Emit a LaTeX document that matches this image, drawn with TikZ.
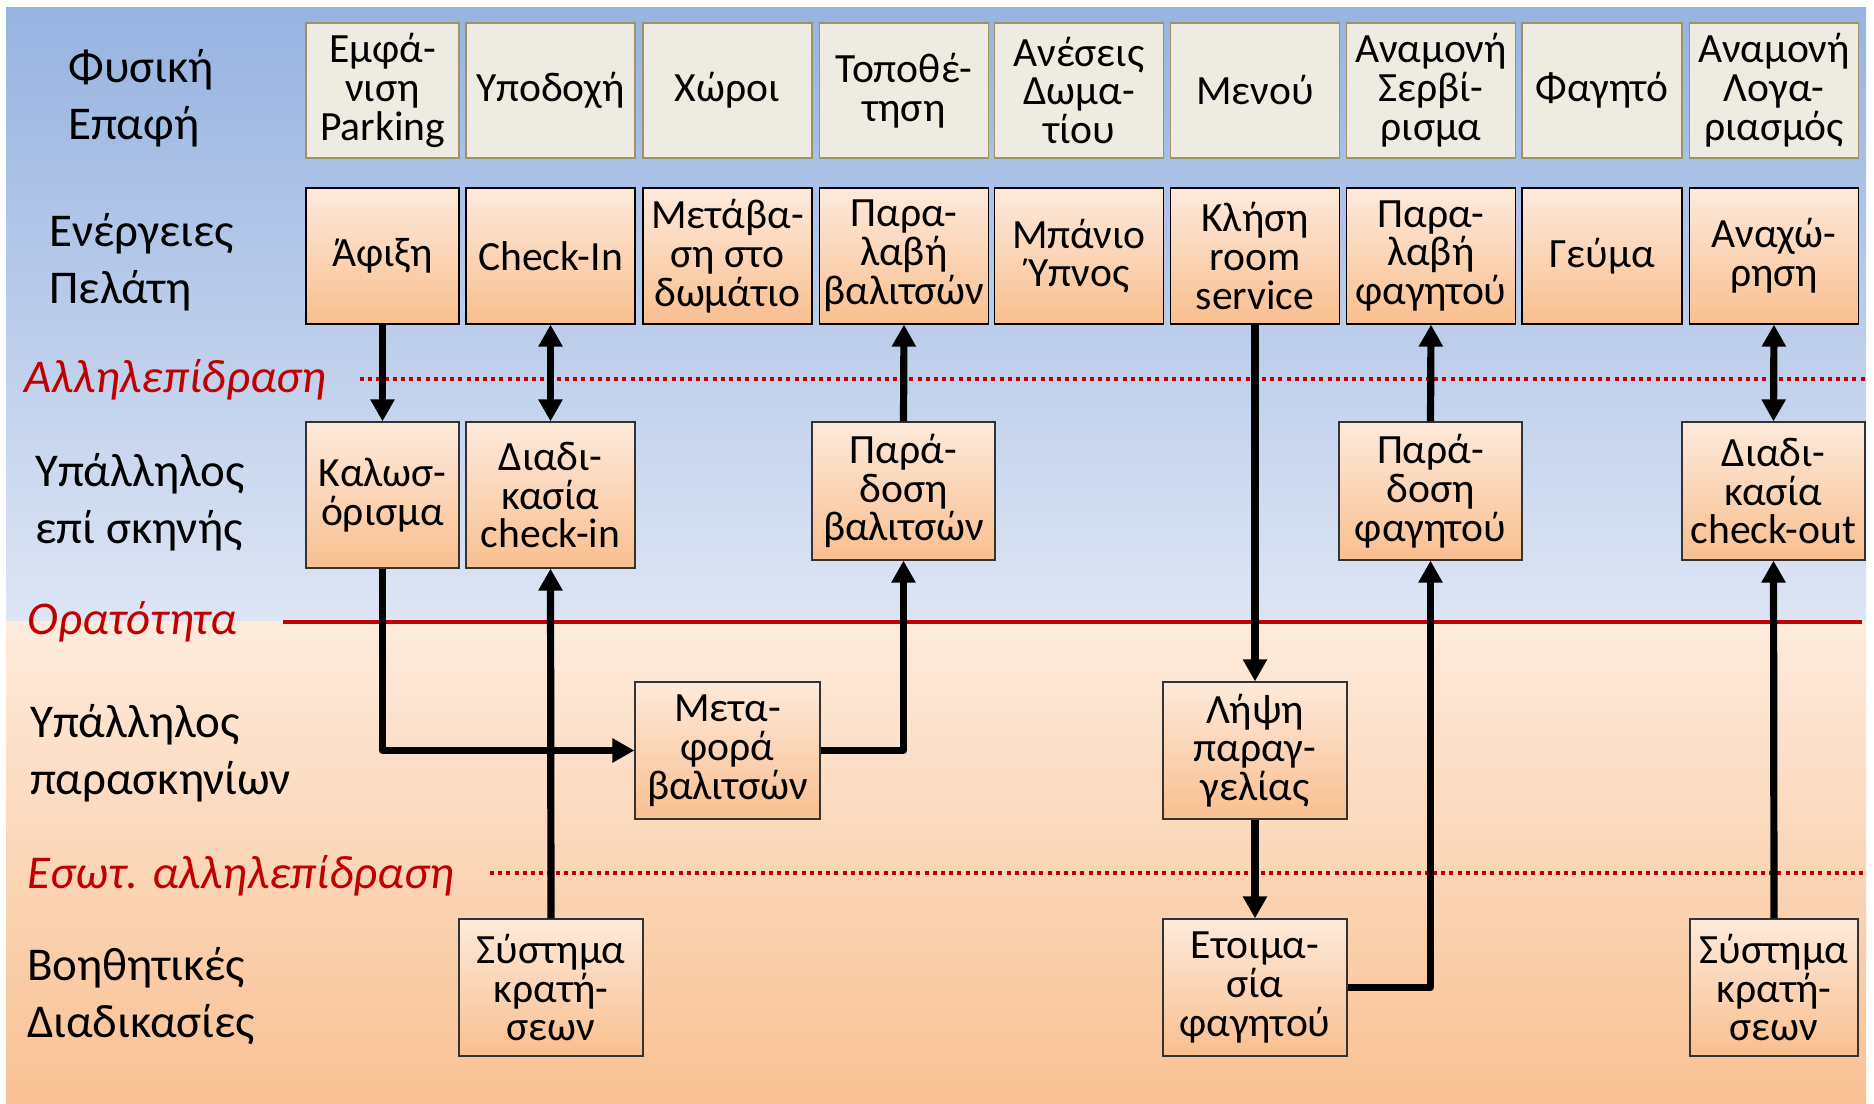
\documentclass[tikz,border=0pt]{standalone}
\usepackage{fontspec}
\setmainfont{Carlito}
\usetikzlibrary{arrows.meta}
\definecolor{bluetop}{HTML}{97B3E1}
\definecolor{bluebot}{HTML}{DDE5F4}
\definecolor{peachtop}{HTML}{FDEBDC}
\definecolor{peachbot}{HTML}{F9C193}
\definecolor{boxtop}{HTML}{FDEADB}
\definecolor{boxbot}{HTML}{F9BF8F}
\definecolor{beige}{HTML}{EEECE1}
\definecolor{olivebd}{HTML}{9D9364}
\definecolor{redline}{HTML}{C00000}
\begin{document}
\begin{tikzpicture}[
        x=0.5pt, y=-0.5pt, % one unit = one pixel of the slide
        lane/.style={font=\fontsize{23.5}{28.7}\selectfont, align=left, anchor=west, inner sep=0pt},
        zone/.style={font=\fontsize{23.5}{28.7}\selectfont\itshape, text=redline, anchor=west, inner sep=0pt},
        touch/.style={draw=olivebd, fill=beige, line width=0.6pt, align=center, inner sep=0pt, font=\fontsize{20.8}{19.4}\selectfont, minimum width=84.5pt, minimum height=67.5pt},
        act/.style={draw=black!80, top color=boxtop, bottom color=boxbot, line width=0.6pt, align=center, inner sep=0pt, font=\fontsize{20.8}{19.4}\selectfont, minimum width=84.5pt, minimum height=68pt},
        arrowline/.style={line width=3.6pt, line join=round, -{Triangle[length=11pt,width=11.5pt]}},
        twoway/.style={arrowline, {Triangle[length=11pt,width=11.5pt]}-{Triangle[length=11pt,width=11.5pt]}},
        dotline/.style={draw=redline, line width=2pt, dash pattern=on 2pt off 2.1pt},
    ]
    \useasboundingbox (0,0) rectangle (1874,1103);
    % Background
    \fill[white] (0,0) rectangle (1874,1103);
    \fill[top color=bluetop, bottom color=bluebot] (6,7) rectangle (1866,621);
    \fill[top color=peachtop, bottom color=peachbot] (6,621) rectangle (1866,1103);

    % Lane labels
    \node[lane] (l1) at (68,98) {Φυσική\\Επαφή};
    \node[lane] (l2) at (49,262) {Ενέργειες\\Πελάτη};
    \node[lane] (l3) at (35,502) {Υπάλληλος\\επί σκηνής};
    \node[lane] (l4) at (30,753) {Υπάλληλος\\παρασκηνίων};
    \node[lane] (l5) at (27,996) {Βοηθητικές\\Διαδικασίες};

    % Lines between lanes
    \node[zone] (z1) at (24,380) {Αλληλεπίδραση};
    \node[zone] (z2) at (27,622) {Ορατότητα};
    \node[zone] (z3) at (27,876) {Εσωτ. αλληλεπίδραση};
    \draw[dotline] (360,379) -- (1866,379);
    \draw[redline, line width=2.1pt] (283,622) -- (1862,622);
    \draw[dotline] (490,873) -- (1866,873);

    % Physical contact
    \node[touch, minimum width=76.5pt] (p1) at (382.5,90.5) {Εμφά-\\νιση\\Parking};
    \node[touch] (p2) at (550.5,90.5) {Υποδοχή};
    \node[touch] (p3) at (727.5,90.5) {Χώροι};
    \node[touch] (p4) at (904,90.5) {Τοποθέ-\\τηση};
    \node[touch] (p5) at (1079,90.5) {Ανέσεις\\Δωμα-\\τίου};
    \node[touch] (p6) at (1255,90.5) {Μενού};
    \node[touch] (p7) at (1431,90.5) {Αναμονή\\Σερβί-\\ρισμα};
    \node[touch, minimum width=80pt] (p8) at (1602,90.5) {Φαγητό};
    \node[touch] (p9) at (1774,90.5) {Αναμονή\\Λογα-\\ριασμός};

    % Customer actions
    \node[act, draw=black, minimum width=76.5pt] (afixi) at (382.5,256) {Άφιξη};
    \node[act, draw=black] (checkin) at (550.5,256) {Check-In};
    \node[act, draw=black] (metavasi) at (727.5,256) {Μετάβα-\\ση στο\\δωμάτιο};
    \node[act, draw=black] (paralbal) at (904,256) {Παρα-\\λαβή\\βαλιτσών};
    \node[act, draw=black] (banio) at (1079,256) {Μπάνιο\\Ύπνος};
    \node[act, draw=black] (klisi) at (1255,256) {Κλήση\\room\\service};
    \node[act, draw=black] (paralfag) at (1431,256) {Παρα-\\λαβή\\φαγητού};
    \node[act, draw=black, minimum width=80pt] (geuma) at (1602,256) {Γεύμα};
    \node[act, draw=black] (anax) at (1774,256) {Αναχώ-\\ρηση};

    % Onstage employee
    \node[act, minimum width=76.5pt, minimum height=73pt] (kalos) at (382.5,495) {Καλωσ-\\όρισμα};
    \node[act, minimum height=73pt] (diadin) at (550.5,495) {Διαδι-\\κασία\\check-in};
    \node[act, minimum width=91.5pt, minimum height=69pt] (paradbal) at (903.5,491) {Παρά-\\δοση\\βαλιτσών};
    \node[act, minimum width=91.5pt, minimum height=69pt] (paradfag) at (1430.5,491) {Παρά-\\δοση\\φαγητού};
    \node[act, minimum width=91.5pt, minimum height=69pt] (diadout) at (1773.5,491) {Διαδι-\\κασία\\check-out};

    % Backstage employee
    \node[act, minimum width=92.5pt, minimum height=68.5pt] (metafora) at (727.5,750.5) {Μετα-\\φορά\\βαλιτσών};
    \node[act, minimum width=92pt, minimum height=68.5pt] (lipsi) at (1255,750.5) {Λήψη\\παραγ-\\γελίας};

    % Support processes
    \node[act, minimum width=92pt, minimum height=68.5pt] (systima1) at (551,987.5) {Σύστημα\\κρατή-\\σεων};
    \node[act, minimum width=92pt, minimum height=68.5pt] (etoim) at (1255,987.5) {Ετοιμα-\\σία\\φαγητού};
    \node[act, minimum width=84pt, minimum height=68.5pt] (systima2) at (1774,987.5) {Σύστημα\\κρατή-\\σεων};

    % Arrows
    \draw[arrowline] (afixi.south) -- (kalos.north);
    \draw[twoway] (checkin.south) -- (diadin.north);
    \draw[arrowline] (paradbal.north) -- (paralbal.south);
    \draw[arrowline] (klisi.south) -- (lipsi.north);
    \draw[arrowline] (paradfag.north) -- (paralfag.south);
    \draw[twoway] (anax.south) -- (diadout.north);
    \draw[arrowline] (kalos.south) |- (metafora.west);
    \draw[arrowline] (systima1.north) -- (diadin.south);
    \draw[arrowline] (metafora.east) -| (paradbal.south);
    \draw[arrowline] (lipsi.south) -- (etoim.north);
    \draw[arrowline] (etoim.east) -| (paradfag.south);
    \draw[arrowline] (systima2.north) -- (diadout.south);
\end{tikzpicture}
\end{document}
